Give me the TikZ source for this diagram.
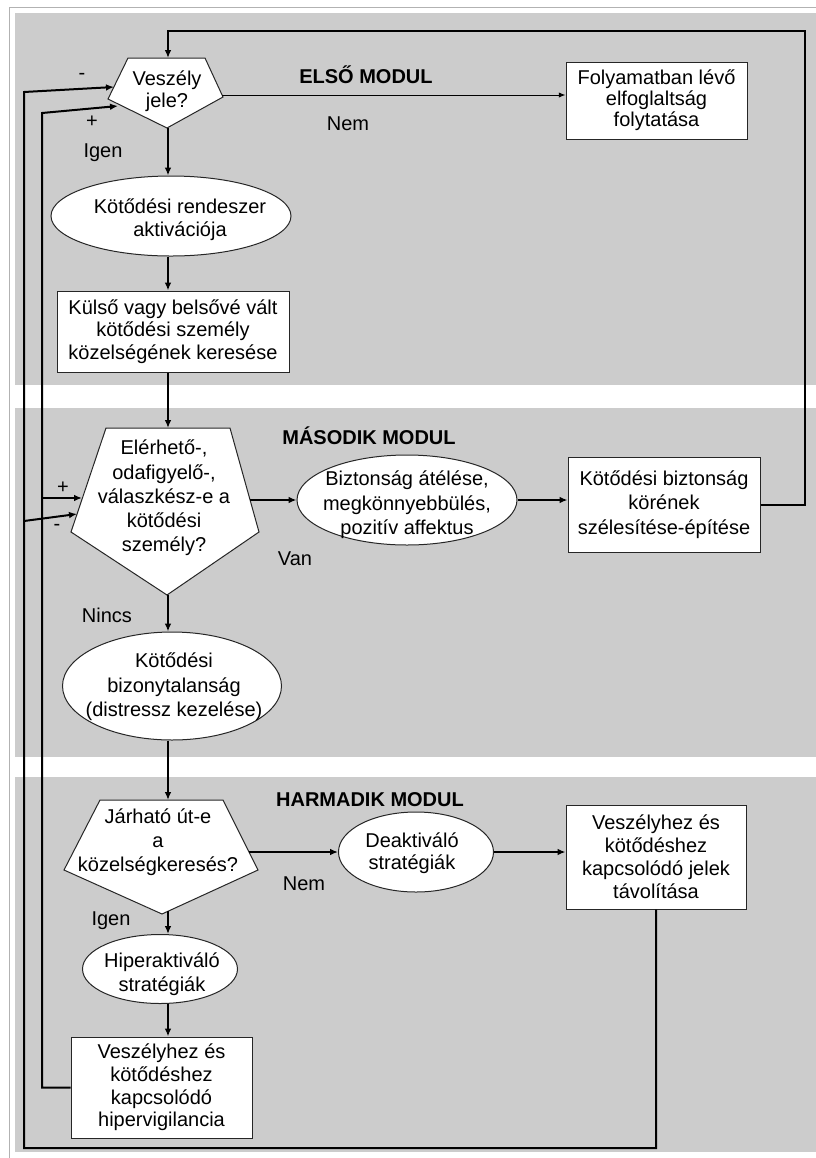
\documentclass[tikz,border=0pt]{standalone}
\usepackage{fontspec}
\setmainfont{Liberation Sans}
\usetikzlibrary{shapes.geometric,arrows.meta}

\begin{document}
\begin{tikzpicture}[x=0.75pt,y=-0.75pt,
  txt/.style={font=\fontsize{15}{#1}\selectfont, align=center, inner sep=0pt},
  txt/.default=17,
  lbl/.style={font=\fontsize{15}{17}\selectfont, inner sep=0pt},
  modul/.style={font=\bfseries\fontsize{15}{17}\selectfont, inner sep=0pt},
  box/.style={draw=black!85, line width=0.75pt, fill=white, inner sep=0pt},
  oval/.style={ellipse, draw=black!85, line width=0.75pt, fill=white, inner sep=0pt},
  outline/.style={draw=black!85, line width=0.75pt, fill=white, line join=miter},
  flow/.style={line width=1.5pt, -{Latex[length=6pt,width=5pt]}},
  thinflow/.style={line width=0.75pt, -{Latex[length=5pt,width=4pt]}},
  band/.style={fill=black!20},
]
\useasboundingbox (0,0) rectangle (816,1158);
\fill[white] (0,0) rectangle (816,1158);
\draw[black!30, line width=0.75pt] (9,7) rectangle (830,1170);

% three module bands
\fill[band] (15,13) rectangle (816,385);
\fill[band] (15,408) rectangle (816,757);
\fill[band] (15,777) rectangle (816,1152);

% ---------- first module ----------
\coordinate (p1tl) at (128,58);
\coordinate (p1tr) at (205,58);
\coordinate (p1r)  at (223,97);
\coordinate (p1b)  at (167,128);
\coordinate (p1l)  at (108,99);
\draw[outline] (p1tl) -- (p1tr) -- (p1r) -- (p1b) -- (p1l) -- cycle;
\node[txt=16.5] (p1) at (167,91) {Veszély\\jele?};
\coordinate (p1t)  at (168,58);
\coordinate (p1R)  at (222,95);
\coordinate (p1bot) at (168,128);
\coordinate (p1m)  at (114,87);
\coordinate (p1p)  at (118,106);

\node[box, txt=15.75, minimum width=181*0.75pt, minimum height=77*0.75pt]
  (fbox) at (656.5,100.5) {Folyamatban lévő\\elfoglaltság\\folytatása};

\node[oval, minimum width=240*0.75pt, minimum height=80*0.75pt] (e1) at (171,216) {};
\node[txt=17.25] (e1t) at (180,220) {Kötődési rendeszer\\aktivációja};

\node[box, txt=16.9, minimum width=232*0.75pt, minimum height=81*0.75pt]
  (kbox) at (173,331.5) {Külső vagy belsővé vált\\kötődési személy\\közelségének keresése};

\node[modul] (m1) at (366,75) {ELSŐ MODUL};
\node[lbl] (nem1) at (348,124) {Nem};
\node[lbl] (igen1) at (103,153) {Igen};
\node[lbl] (minus1) at (82,76) {-};
\node[lbl] (plus1) at (92,122) {+};

% ---------- second module ----------
\coordinate (p2tl) at (106,428);
\coordinate (p2tr) at (230,428);
\coordinate (p2r)  at (259,532);
\coordinate (p2b)  at (167,595);
\coordinate (p2l)  at (71,532);
\draw[outline] (p2tl) -- (p2tr) -- (p2r) -- (p2b) -- (p2l) -- cycle;
\node[txt=18.2] (p2) at (164,498) {Elérhető-,\\odafigyelő-,\\válaszkész-e a\\kötődési\\személy?};
\coordinate (p2t) at (168,428);
\coordinate (p2o) at (250,500);
\coordinate (p2p) at (82,498);
\coordinate (p2m) at (77,514);
\coordinate (p2bot) at (168,595);

\node[oval, minimum width=220*0.75pt, minimum height=90*0.75pt] (bell) at (407,500) {};
\node[txt=18.4] (bellt) at (407,505) {Biztonság átélése,\\megkönnyebbülés,\\pozitív affektus};

\node[box, txt=18.4, minimum width=192*0.75pt, minimum height=95*0.75pt]
  (kbz) at (664,504.5) {Kötődési biztonság\\körének\\szélesítése-építése};

\node[oval, minimum width=219*0.75pt, minimum height=108*0.75pt] (unc) at (172,686) {};
\node[txt=18.4] (unct) at (174,687) {Kötődési\\bizonytalanság\\(distressz kezelése)};

\node[modul] (m2) at (369,436) {MÁSODIK MODUL};
\node[lbl] (van) at (295,559) {Van};
\node[lbl] (nincs) at (107,615) {Nincs};
\node[lbl] (plus2) at (63,488) {+};
\node[lbl] (minus2) at (57,527) {-};

% ---------- third module ----------
\coordinate (p3tl) at (100,800);
\coordinate (p3tr) at (223,800);
\coordinate (p3r)  at (258,870);
\coordinate (p3b)  at (162,914);
\coordinate (p3l)  at (64,870);
\draw[outline] (p3tl) -- (p3tr) -- (p3r) -- (p3b) -- (p3l) -- cycle;
\node[txt=18] (p3) at (158,842) {Járható út-e\\a\\közelségkeresés?};
\coordinate (p3t) at (168,800);
\coordinate (p3o) at (249,852);
\coordinate (p3bot) at (168,911);

\node[oval, minimum width=155*0.75pt, minimum height=80*0.75pt] (deak) at (416,852) {};
\node[txt=16.5] (deakt) at (412,853) {Deaktiváló\\stratégiák};

\node[box, txt=17.25, minimum width=180*0.75pt, minimum height=104*0.75pt]
  (jbox) at (656,857) {Veszélyhez és\\kötődéshez\\kapcsolódó jelek\\távolítása};

\node[oval, minimum width=155*0.75pt, minimum height=69*0.75pt] (hyp) at (160,969) {};
\node[txt=18] (hypt) at (162,974) {Hiperaktiváló\\stratégiák};

\node[box, txt=17, minimum width=181*0.75pt, minimum height=101*0.75pt]
  (hbox) at (161.5,1087.5) {Veszélyhez és\\kötődéshez\\kapcsolódó\\hipervigilancia};

\node[modul] (m3) at (370,800) {HARMADIK MODUL};
\node[lbl] (nem3) at (304,884) {Nem};
\node[lbl] (igen3) at (111,921) {Igen};

% ---------- loop corners ----------
\coordinate (col) at (168,0);
\coordinate (rt)  at (805,31);
\coordinate (obl) at (24,1148);
\coordinate (olt) at (24,92);
\coordinate (om2) at (24,521);
\coordinate (ilt) at (42,113);
\coordinate (ip2) at (42,498);

% ---------- connectors ----------
\draw[thinflow] (p1R) -- (fbox.west |- p1R);
\draw[flow] (p1bot) -- (col |- e1.north);
\draw[flow] (col |- e1.south) -- (col |- kbox.north);
\draw[flow] (col |- kbox.south) -- (p2t);
\draw[flow] (p2o) -- (bell.west);
\draw[flow] (bell.east) -- (kbz.west |- bell.east);
\draw[flow] (kbz.east) -| (rt) -| (p1t);
\draw[flow] (p2bot) -- (col |- unc.north);
\draw[flow] (col |- unc.south) -- (p3t);
\draw[flow] (p3o) -- (deak.west);
\draw[flow] (deak.east) -- (jbox.west |- deak.east);
\draw[flow] (p3bot) -- (col |- hyp.north);
\draw[flow] (col |- hyp.south) -- (col |- hbox.north);

% outer feedback loop (minus)
\draw[flow] (jbox.south) |- (obl) -- (olt) -- (p1m);
\draw[flow] (om2) -- (p2m);
% inner feedback loop (plus)
\draw[flow] (hbox.west) -| (ilt) -- (p1p);
\draw[flow] (ip2) -- (p2p);
\end{tikzpicture}
\end{document}
